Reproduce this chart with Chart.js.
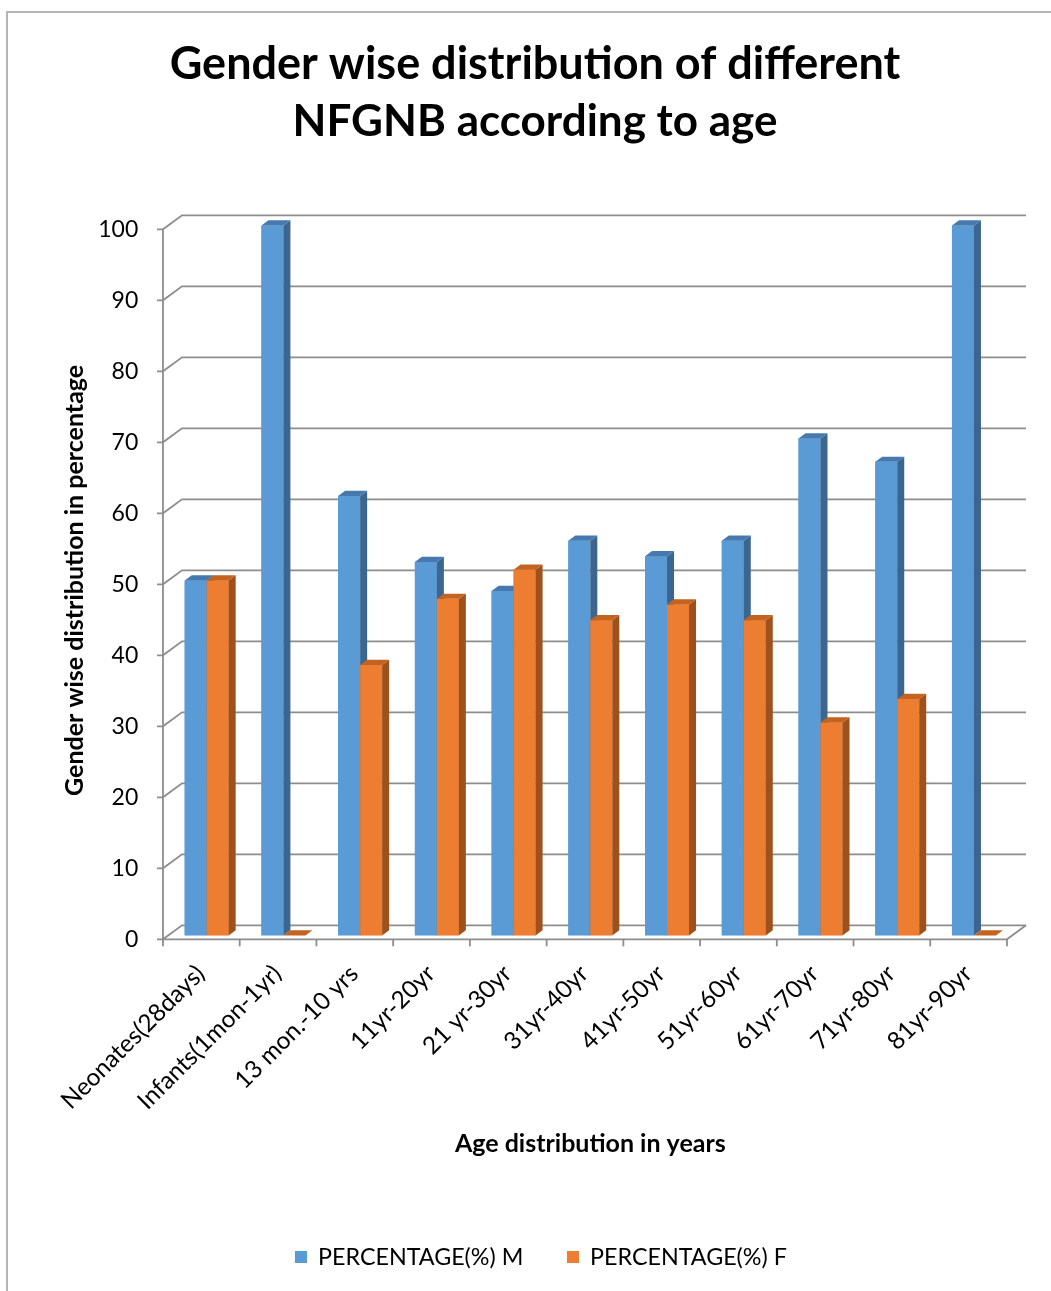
<!DOCTYPE html>
<html>
<head>
<meta charset="utf-8">
<title>Gender wise distribution of different NFGNB according to age</title>
<script src="https://cdn.jsdelivr.net/npm/chart.js@4.4.1/dist/chart.umd.min.js"></script>
<style>
  html, body { margin: 0; padding: 0; background: #ffffff; }
  #wrap { width: 1051px; height: 1291px; position: relative; }
  canvas { display: block; }
</style>
</head>
<body>
<div id="wrap"><canvas id="chart" width="1051" height="1291"></canvas></div>
<script>
// ---- data ----
const titleLines = ['Gender wise distribution of different', 'NFGNB according to age'];
const ageGroups = [
  'Neonates(28days)', 'Infants(1mon-1yr)', '13 mon.-10 yrs', '11yr-20yr', '21 yr-30yr',
  '31yr-40yr', '41yr-50yr', '51yr-60yr', '61yr-70yr', '71yr-80yr', '81yr-90yr'
];
const malePercent   = [50, 100, 61.9, 52.6, 48.5, 55.6, 53.4, 55.6, 70, 66.7, 100];
const femalePercent = [50, 0, 38.1, 47.4, 51.5, 44.4, 46.6, 44.4, 30, 33.3, 0];
const seriesNames = ['PERCENTAGE(%) M', 'PERCENTAGE(%) F'];
const yAxisTitle = 'Gender wise distribution in percentage';
const xAxisTitle = 'Age distribution in years';

// ---- styling ----
const FONT = 'Lato, "Open Sans", "Noto Sans", sans-serif';
const faces = [
  { front: '#5B9BD5', side: '#3C6690', top: '#4679AD' },
  { front: '#ED7D31', side: '#9E511D', top: '#C4621F' }
];
const GRID_COLOR = '#8d8d8d';
// depth of the box (back wall offset) and where the bars sit inside it
const DEPTH = { dx: 19, dy: -14, barFront: 0.28, barSpan: 0.37 };

// back wall, floor and the front axis, drawn in oblique projection
const boxPlugin = {
  id: 'box3d',
  beforeDraw(chart) {
    const ctx = chart.ctx;
    ctx.save();
    ctx.fillStyle = '#ffffff';
    ctx.fillRect(0, 0, chart.width, chart.height);
    // outer frame
    ctx.strokeStyle = '#b4b4b4';
    ctx.lineWidth = 2;
    ctx.beginPath();
    ctx.moveTo(7, chart.height + 2);
    ctx.lineTo(7, 12);
    ctx.lineTo(chart.width + 2, 12);
    ctx.stroke();
    ctx.restore();
  },
  beforeDatasetsDraw(chart) {
    const { ctx, chartArea } = chart;
    const ys = chart.scales.y;
    const fx = -DEPTH.dx * DEPTH.barFront, fy = -DEPTH.dy * DEPTH.barFront;
    const left = chartArea.left + fx, right = chartArea.right + fx;
    ctx.save();
    ctx.strokeStyle = GRID_COLOR;
    ctx.lineWidth = 1.8;
    ctx.lineCap = 'butt';
    ys.ticks.forEach(t => {
      const y = ys.getPixelForValue(t.value) + fy;
      ctx.beginPath();
      ctx.moveTo(left - 6, y);
      ctx.lineTo(left, y);
      ctx.lineTo(left + DEPTH.dx, y + DEPTH.dy);
      ctx.lineTo(right + DEPTH.dx, y + DEPTH.dy);
      ctx.stroke();
    });
    const y0 = ys.getPixelForValue(0) + fy;
    const yTop = ys.getPixelForValue(ys.max) + fy;
    ctx.beginPath();
    // front vertical axis
    ctx.moveTo(left, yTop);
    ctx.lineTo(left, y0);
    // floor front edge and right edge
    ctx.lineTo(right, y0);
    ctx.lineTo(right + DEPTH.dx, y0 + DEPTH.dy);
    ctx.stroke();
    // category separators on the floor edge
    const n = ageGroups.length;
    for (let i = 0; i <= n; i++) {
      const x = left + (right - left) * i / n;
      ctx.beginPath();
      ctx.moveTo(x, y0);
      ctx.lineTo(x, y0 + 7);
      ctx.stroke();
    }
    ctx.restore();
  },
  afterDatasetsDraw(chart) {
    const ctx = chart.ctx;
    const sx = DEPTH.dx * DEPTH.barSpan, sy = DEPTH.dy * DEPTH.barSpan;
    ctx.save();
    for (let i = 0; i < ageGroups.length; i++) {
      for (let d = 0; d < chart.data.datasets.length; d++) {
        const el = chart.getDatasetMeta(d).data[i];
        const p = el.getProps(['x', 'y', 'base', 'width'], true);
        const l = p.x - p.width / 2, r = p.x + p.width / 2;
        const top = Math.min(p.y, p.base), bot = Math.max(p.y, p.base);
        const f = faces[d];
        ctx.fillStyle = f.front;
        ctx.fillRect(l, top, r - l, bot - top);
        ctx.fillStyle = f.side;
        ctx.beginPath();
        ctx.moveTo(r, top); ctx.lineTo(r + sx, top + sy);
        ctx.lineTo(r + sx, bot + sy); ctx.lineTo(r, bot);
        ctx.closePath(); ctx.fill();
        ctx.fillStyle = f.top;
        ctx.beginPath();
        ctx.moveTo(l, top); ctx.lineTo(l + sx, top + sy);
        ctx.lineTo(r + sx, top + sy); ctx.lineTo(r, top);
        ctx.closePath(); ctx.fill();
      }
    }
    ctx.restore();
  },
  afterDraw(chart) {
    const ctx = chart.ctx;
    ctx.save();
    // title
    ctx.fillStyle = '#000000';
    ctx.textAlign = 'center';
    ctx.textBaseline = 'middle';
    ctx.font = 'bold 45px ' + FONT;
    ctx.fillText(titleLines[0], 535, 64);
    ctx.font = 'bold 44px ' + FONT;
    ctx.fillText(titleLines[1], 535, 122);
    // legend
    ctx.font = '23.3px ' + FONT;
    ctx.textAlign = 'left';
    const legendItems = [{ x: 295 }, { x: 567 }];
    legendItems.forEach((it, k) => {
      ctx.fillStyle = faces[k].front;
      ctx.fillRect(it.x, 1251, 12, 12);
      ctx.fillStyle = '#000000';
      ctx.fillText(seriesNames[k], it.x + 23, 1257);
    });
    ctx.restore();
  }
};

const chart = new Chart(document.getElementById('chart'), {
  type: 'bar',
  data: {
    labels: ageGroups,
    datasets: [
      { label: seriesNames[0], data: malePercent, backgroundColor: faces[0].front,
        categoryPercentage: 0.573, barPercentage: 1.0 },
      { label: seriesNames[1], data: femalePercent, backgroundColor: faces[1].front,
        categoryPercentage: 0.573, barPercentage: 1.0 }
    ]
  },
  options: {
    responsive: false,
    animation: false,
    layout: { padding: { left: 60, right: 38.7, top: 225.4, bottom: 125.6 } },
    plugins: {
      legend: { display: false },
      title: { display: false },
      tooltip: { enabled: false }
    },
    scales: {
      x: {
        offset: true,
        grid: { display: false, drawTicks: false },
        border: { display: false },
        ticks: {
          autoSkip: false, minRotation: 45, maxRotation: 45, padding: 24, labelOffset: -6,
          color: '#000000', font: { family: FONT, size: 24.3 }
        },
        title: {
          display: true, text: xAxisTitle, color: '#000000',
          font: { family: FONT, size: 25, weight: 'bold' }, padding: { top: 0, bottom: 6 }
        },
        afterFit(scale) { scale.height = 230; }
      },
      y: {
        min: 0, max: 100,
        grid: { display: false, drawTicks: false },
        border: { display: false },
        ticks: {
          stepSize: 10, padding: 30, labelOffset: 3.9,
          color: '#000000', font: { family: FONT, size: 23 }
        },
        title: {
          display: true, text: yAxisTitle, color: '#000000',
          font: { family: FONT, size: 25, weight: 'bold' }, padding: { top: 0, bottom: 0 }
        },
        afterFit(scale) { scale.width = 168.3 - 60; }
      }
    }
  },
  plugins: [boxPlugin]
});
</script>
</body>
</html>
